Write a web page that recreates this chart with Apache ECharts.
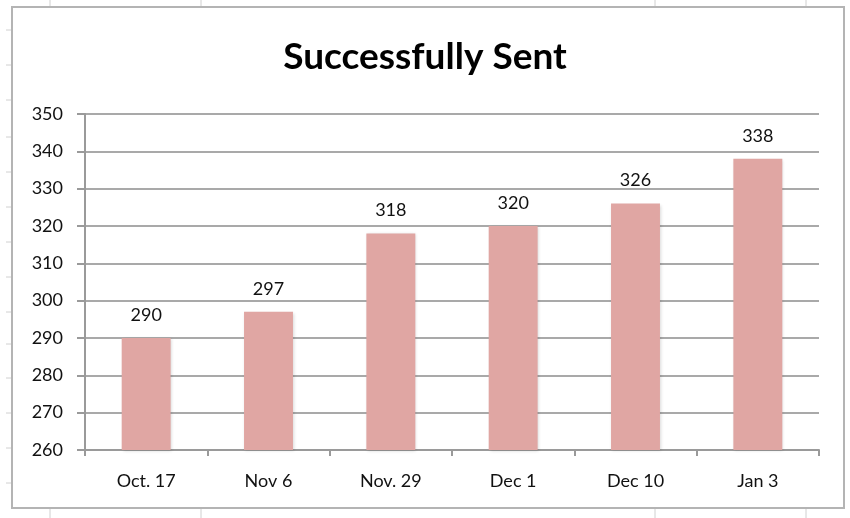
<!DOCTYPE html>
<html><head><meta charset="utf-8">
<script src="https://cdn.jsdelivr.net/npm/echarts@6/dist/echarts.min.js"></script>
<style>html,body{margin:0;padding:0;background:#fff}#c{width:850px;height:518px}</style>
</head><body><div id="c"></div>
<script>
const categories = ['Oct. 17', 'Nov 6', 'Nov. 29', 'Dec 1', 'Dec 10', 'Jan 3'];
const sentValues = [290, 297, 318, 320, 326, 338];
const titleText = 'Successfully Sent';

const chart = echarts.init(document.getElementById('c'), null, {renderer: 'canvas'});
const FONT = 'Lato, "Open Sans", sans-serif';
const deco = [];
// outer chart frame
deco.push({type: 'rect', shape: {x: 12, y: 7, width: 832, height: 501}, style: {fill: 'none', stroke: '#b4b4b4', lineWidth: 2}, z: 1});
// faint spreadsheet cell lines outside frame
[50, 201, 655, 806].forEach(x => {
  deco.push({type: 'line', shape: {x1: x, y1: 0, x2: x, y2: 6}, style: {stroke: '#d0d0d0', lineWidth: 1}});
  deco.push({type: 'line', shape: {x1: x, y1: 509, x2: x, y2: 518}, style: {stroke: '#d0d0d0', lineWidth: 1}});
});
[30, 65, 100, 137, 172, 207, 242, 277, 312, 344, 378, 413, 448, 483].forEach(y => {
  deco.push({type: 'line', shape: {x1: 6, y1: y, x2: 11, y2: y}, style: {stroke: '#d0d0d0', lineWidth: 1}});
});

chart.setOption({
  animation: false,
  backgroundColor: '#fff',
  title: {
    text: titleText, left: 'center', top: 34,
    textStyle: {fontFamily: FONT, fontSize: 37, fontWeight: 'bold', color: '#000'}
  },
  grid: {left: 85, right: 31, top: 114, bottom: 68},
  xAxis: {
    type: 'category', data: categories,
    axisLine: {lineStyle: {color: '#9a9a9a', width: 2}},
    axisTick: {show: true, length: 6, lineStyle: {color: '#9a9a9a', width: 2}},
    axisLabel: {margin: 22, fontFamily: FONT, fontSize: 18, color: '#111'}
  },
  yAxis: {
    type: 'value', min: 260, max: 350, interval: 10,
    axisLine: {show: true, lineStyle: {color: '#9a9a9a', width: 2}},
    axisTick: {show: true, length: 8, lineStyle: {color: '#9a9a9a', width: 2}},
    splitLine: {lineStyle: {color: '#8c8c8c', width: 1.5}},
    axisLabel: {margin: 22, fontFamily: FONT, fontSize: 18, color: '#111'}
  },
  series: [{
    type: 'bar', data: sentValues, barWidth: '40%',
    itemStyle: {color: '#e0a6a3', shadowColor: 'rgba(0,0,0,0.15)', shadowBlur: 3, shadowOffsetX: 1, shadowOffsetY: 1},
    label: {show: true, position: 'top', distance: 14, fontFamily: FONT, fontSize: 18, color: '#111'}
  }],
  graphic: deco
});
</script></body></html>
